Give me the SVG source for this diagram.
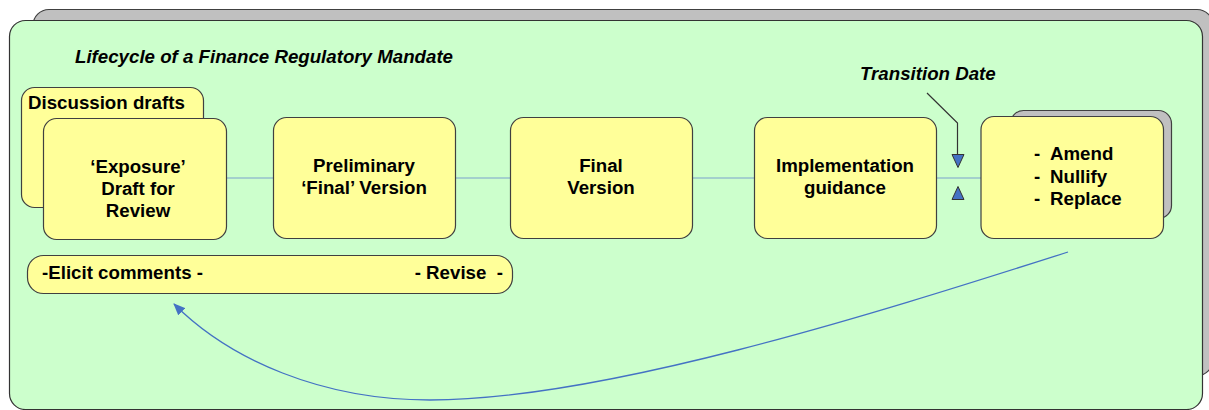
<svg xmlns="http://www.w3.org/2000/svg" width="1209" height="410" viewBox="0 0 1209 410">
<style>
.t{font-family:"Liberation Sans",Arial,sans-serif;font-weight:bold;font-size:18.7px;fill:#000}
.i{font-style:italic}
.c{text-anchor:middle}
.box{fill:#FFFF99;stroke:#404040;stroke-width:1.2}
.sh{fill:#C0C0C0;stroke:#404040;stroke-width:1.2}
.ln{stroke:#7AA2CC;stroke-width:1.2;fill:none}
.tri{fill:#4472C4;stroke:#333;stroke-width:1}
</style>
<defs>
<marker id="ah" markerWidth="12" markerHeight="10" refX="11" refY="5" orient="auto" markerUnits="userSpaceOnUse">
<path d="M0,0 L12,5 L0,10 Z" fill="#4472C4"/>
</marker>
</defs>
<g id="frame">
<rect x="33" y="9.5" width="1180" height="366" rx="16" class="sh"/>
<rect x="9.5" y="20.5" width="1193" height="389" rx="16" fill="#CCFFCC" stroke="#333" stroke-width="1.2"/>
<text x="75" y="63" class="t i">Lifecycle of a Finance Regulatory Mandate</text>
</g>
<g id="connectors">
<line x1="227" y1="178" x2="273" y2="178" class="ln"/>
<line x1="455" y1="178" x2="510" y2="178" class="ln"/>
<line x1="693" y1="178" x2="754" y2="178" class="ln"/>
<line x1="937" y1="178" x2="981" y2="178" class="ln"/>
<path d="M927,93 L957.5,123 L957.5,155" fill="none" stroke="#333" stroke-width="1.2"/>
<path d="M952,154.5 L964,154.5 L958,167.5 Z" class="tri"/>
<path d="M952,199.5 L964,199.5 L958,186.5 Z" class="tri"/>
<path d="M1068,252 C868,316 600,400 430,400 C322,400 230,360 174,304" fill="none" stroke="#4472C4" stroke-width="1.3" marker-end="url(#ah)"/>
</g>
<g id="discussion">
<rect x="21.5" y="87.5" width="182" height="120" rx="13" class="box"/>
<text x="28" y="109" class="t">Discussion drafts</text>
</g>
<g id="exposure">
<rect x="43.5" y="118.5" width="183" height="121" rx="13" class="box"/>
<text x="138" y="173" class="t c">‘Exposure’</text>
<text x="138" y="195" class="t c">Draft for</text>
<text x="138" y="217" class="t c">Review</text>
</g>
<g id="preliminary">
<rect x="273.5" y="117.5" width="182" height="121" rx="13" class="box"/>
<text x="364" y="172" class="t c">Preliminary</text>
<text x="364" y="194" class="t c">‘Final’ Version</text>
</g>
<g id="final">
<rect x="510.5" y="117.5" width="182" height="121" rx="13" class="box"/>
<text x="601" y="172" class="t c">Final</text>
<text x="601" y="194" class="t c">Version</text>
</g>
<g id="implementation">
<rect x="754.5" y="117.5" width="182" height="121" rx="13" class="box"/>
<text x="845" y="172" class="t c">Implementation</text>
<text x="845" y="194" class="t c">guidance</text>
</g>
<g id="transition">
<text x="860" y="80" class="t i">Transition Date</text>
</g>
<g id="amend">
<rect x="1010.5" y="110.5" width="161" height="108" rx="13" class="sh"/>
<rect x="981" y="116.5" width="182.5" height="122" rx="13" class="box"/>
<text x="1034" y="160" class="t">-</text>
<text x="1050" y="160" class="t">Amend</text>
<text x="1034" y="183" class="t">-</text>
<text x="1050" y="183" class="t">Nullify</text>
<text x="1034" y="205" class="t">-</text>
<text x="1050" y="205" class="t">Replace</text>
</g>
<g id="elicit">
<rect x="27.5" y="255.5" width="485" height="38" rx="16" class="box"/>
<text x="42" y="279" class="t">-Elicit comments -</text>
<text x="503" y="279" class="t" text-anchor="end" xml:space="preserve">- Revise  -</text>
</g>
</svg>
